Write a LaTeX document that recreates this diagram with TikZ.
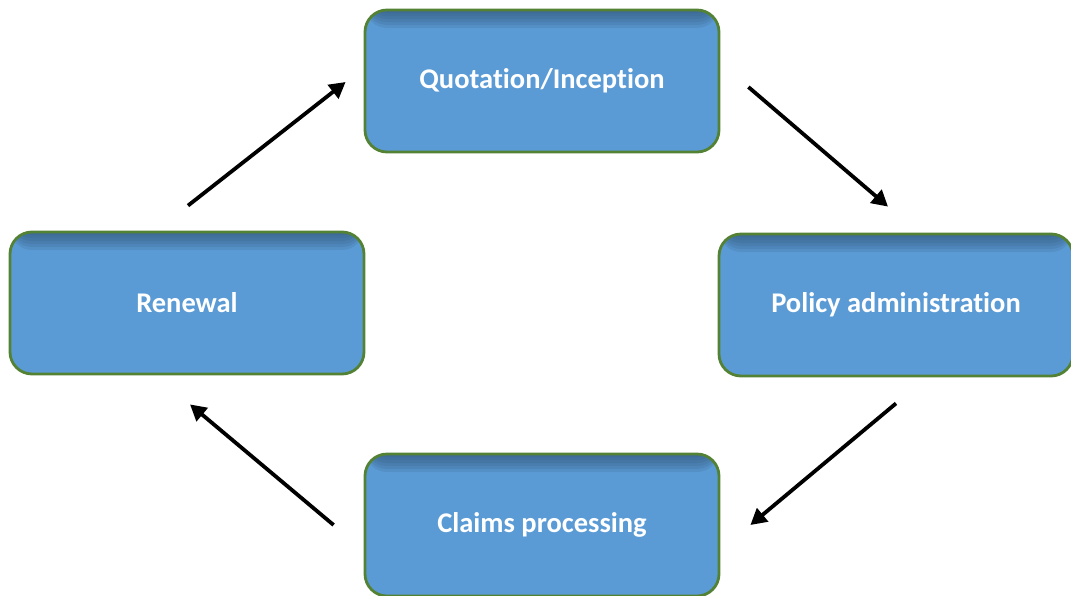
\documentclass[tikz,border=0pt]{standalone}
\usepackage{fontspec}
\setmainfont{Carlito}[Ligatures={NoCommon,NoContextual,NoRare}]
\usetikzlibrary{arrows.meta}
\definecolor{boxblue}{HTML}{5B9BD5}
\definecolor{boxshade}{HTML}{2E4E70}
\definecolor{boxgreen}{HTML}{548235}

\begin{document}
\begin{tikzpicture}[x=1pt, y=-1pt, font=\bfseries\fontsize{28.5}{34}\selectfont]
\tikzset{
  stage/.style={draw=boxgreen, line width=2.8pt, fill=boxblue,
    rounded corners=22pt, minimum width=354pt, minimum height=142pt,
    text=white,
    % dark rim along the top edge
    path picture={\foreach \d in {3,6,...,18}
      \fill[boxshade, opacity=0.14]
        (path picture bounding box.north west) rectangle
        ([yshift=-\d pt]path picture bounding box.north east);}},
  flow/.style={line width=3.8pt, -{Triangle[length=16pt, width=17pt]}}
}
\useasboundingbox (0,0) rectangle (1071,595);
        \node[stage] (quote) at (542,81) {Quotation/Inception};
        \node[stage] (policy) at (896,305) {Policy administration};
        \node[stage] (claims) at (542,525) {Claims processing};
        \node[stage] (renewal) at (187,303) {Renewal};
	\draw[flow] ([xshift=28pt, yshift=-6pt]quote.east) -- ([xshift=-8pt, yshift=26pt]policy.north);
	\draw[flow] ([yshift=-26pt]policy.south) -- ([xshift=30pt]claims.east);
	\draw[flow] ([xshift=-30pt]claims.west) -- ([xshift=3pt, yshift=-29pt]renewal.south);
	\draw[flow] ([xshift=1pt, yshift=25pt]renewal.north) -- ([xshift=-18pt, yshift=-1pt]quote.west);
    \end{tikzpicture}
\end{document}
